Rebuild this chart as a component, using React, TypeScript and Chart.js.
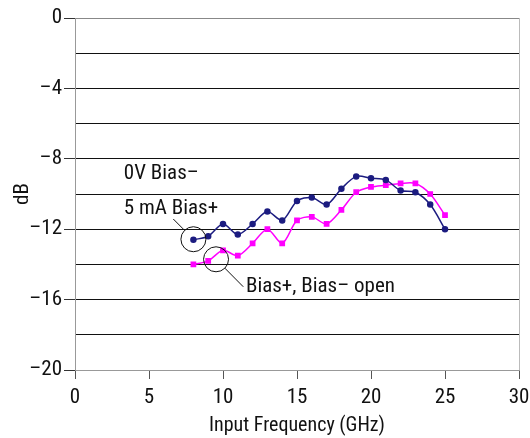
import React, { useEffect, useRef } from "react";
import { Chart, registerables } from "chart.js";

Chart.register(...registerables);

// Input frequency sweep (GHz)
const frequencies = [8, 9, 10, 11, 12, 13, 14, 15, 16, 17, 18, 19, 20, 21, 22, 23, 24, 25];

// 0V Bias– / 5 mA Bias+ response (dB)
const biasedResponse = [
  -12.6, -12.4, -11.7, -12.3, -11.7, -11.0, -11.5, -10.4, -10.2, -10.6,
  -9.7, -9.0, -9.1, -9.2, -9.8, -9.9, -10.6, -12.0,
];

// Bias+, Bias– open response (dB)
const openResponse = [
  -14.0, -13.8, -13.2, -13.5, -12.8, -12.0, -12.8, -11.5, -11.3, -11.7,
  -10.9, -9.9, -9.6, -9.5, -9.4, -9.4, -10.0, -11.2,
];

// Axis ranges and ticks
const xTickStep = 5;
const yTickStep = 2;
const yLabelEvery = 4;

// Callout texts, anchored in data units (GHz, dB)
const calloutTexts = ["0V Bias–", "5 mA Bias+", "Bias+, Bias– open"];
const calloutTextX = [3.3, 3.3, 11.55];
const calloutTextY = [-8.86, -10.82, -15.28];

// Callout rings (centre in data units) with the far end of each leader line
const ringX = [8.0, 9.53];
const ringY = [-12.57, -13.71];
const leaderX = [6.64, 11.37];
const leaderY = [-11.42, -15.27];

const FONT = "'Roboto Condensed', 'Liberation Sans Narrow', sans-serif";

const calloutPlugin = {
  id: "callouts",
  afterDatasetsDraw(chart: any) {
    const { ctx } = chart;
    const xs = chart.scales.x;
    const ys = chart.scales.y;
    const r = 12.5;
    ctx.save();
    ctx.strokeStyle = "#111";
    ctx.lineWidth = 1;
    for (let i = 0; i < ringX.length; i++) {
      const cx = xs.getPixelForValue(ringX[i]);
      const cy = ys.getPixelForValue(ringY[i]);
      ctx.beginPath();
      ctx.arc(cx, cy, r, 0, Math.PI * 2);
      ctx.stroke();
      const lx = xs.getPixelForValue(leaderX[i]);
      const ly = ys.getPixelForValue(leaderY[i]);
      const d = Math.hypot(lx - cx, ly - cy);
      ctx.beginPath();
      ctx.moveTo(lx, ly);
      ctx.lineTo(cx + ((lx - cx) / d) * r, cy + ((ly - cy) / d) * r);
      ctx.stroke();
    }
    ctx.fillStyle = "#111";
    ctx.font = `21px ${FONT}`;
    ctx.textAlign = "left";
    ctx.textBaseline = "middle";
    for (let i = 0; i < calloutTexts.length; i++) {
      ctx.fillText(
        calloutTexts[i],
        xs.getPixelForValue(calloutTextX[i]),
        ys.getPixelForValue(calloutTextY[i])
      );
    }
    ctx.restore();
  },
};

const tickFont = { family: FONT, size: 21 };
const titleFont = { family: FONT, size: 20 };

export default function App() {
  const canvasRef = useRef<HTMLCanvasElement>(null);

  useEffect(() => {
    if (!canvasRef.current) return;
    const chart = new Chart(canvasRef.current, {
      type: "line",
      data: {
        datasets: [
          {
            label: "0V Bias– / 5 mA Bias+",
            data: frequencies.map((f, i) => ({ x: f, y: biasedResponse[i] })),
            borderColor: "#1c1c80",
            backgroundColor: "#1c1c80",
            borderWidth: 1.5,
            pointStyle: "circle",
            pointRadius: 2.5,
            tension: 0.3,
          },
          {
            label: "Bias+, Bias– open",
            data: frequencies.map((f, i) => ({ x: f, y: openResponse[i] })),
            borderColor: "#ff00ff",
            backgroundColor: "#ff00ff",
            borderWidth: 1.5,
            pointStyle: "rect",
            pointRadius: 3,
            tension: 0.3,
          },
        ],
      },
      options: {
        responsive: false,
        animation: false,
        layout: { padding: { top: 18, right: 11, left: 0, bottom: 0 } },
        plugins: {
          legend: { display: false },
          tooltip: { enabled: false },
        },
        scales: {
          x: {
            type: "linear",
            min: 0,
            max: 30,
            afterFit: (s: any) => {
              s.height = 68;
              s.paddingLeft = 0;
              s.paddingRight = 0;
            },
            ticks: {
              stepSize: xTickStep,
              color: "#111",
              padding: 6,
              font: tickFont,
            },
            grid: {
              color: (c: any) => (c.tick && c.tick.value === 30 ? "#bbb" : "transparent"),
              tickColor: "#555",
              tickLength: 9,
              lineWidth: 1,
            },
            border: { color: "#999", width: 1 },
            title: {
              display: true,
              text: "Input Frequency (GHz)",
              color: "#111",
              font: titleFont,
              padding: { top: 0, bottom: 0 },
            },
          },
          y: {
            min: -20,
            max: 0,
            afterFit: (s: any) => {
              s.width = 75;
              s.paddingTop = 0;
              s.paddingBottom = 0;
            },
            ticks: {
              stepSize: yTickStep,
              color: "#111",
              padding: 2,
              font: tickFont,
              callback: (v: any) => {
                const n = Number(v);
                if (n % yLabelEvery !== 0) return "";
                return n < 0 ? "–" + Math.abs(n) : String(n);
              },
            },
            grid: {
              color: (c: any) => {
                const v = c.tick ? c.tick.value : 0;
                if (v === 0) return "#888";
                if (v === -20) return "#999";
                return "#111";
              },
              tickColor: (c: any) =>
                c.tick && c.tick.value % yLabelEvery === 0 ? "#333" : "transparent",
              tickLength: 11,
              lineWidth: 1,
            },
            border: { color: "#999", width: 1 },
            title: {
              display: true,
              text: "dB",
              color: "#111",
              font: tickFont,
              padding: { top: 10, bottom: 0 },
            },
          },
        },
      },
      plugins: [calloutPlugin],
    });
    return () => chart.destroy();
  }, []);

  return (
    <div style={{ position: "absolute", left: 0, top: 0, width: 530, height: 438, background: "#fff" }}>
      <canvas ref={canvasRef} width={530} height={438} />
    </div>
  );
}
